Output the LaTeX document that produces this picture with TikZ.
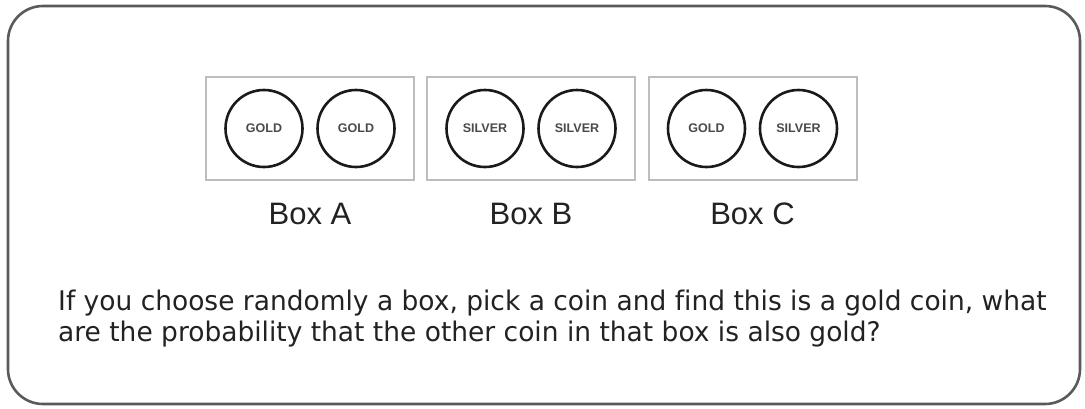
\documentclass[tikz,border=0pt]{standalone}
\usepackage{fontspec}
\usepackage{tikz}
\usetikzlibrary{calc,positioning}
\setmainfont{Liberation Sans}
\newfontfamily\labelfont{Liberation Sans}
\newfontfamily\questfont[FakeStretch=0.98,Ligatures=NoCommon]{DejaVu Sans}
\definecolor{framegray}{HTML}{5A5A5A}
\definecolor{boxgray}  {HTML}{BDBDBD}
\definecolor{coinink}  {HTML}{1A1A1A}
\definecolor{cointext} {HTML}{4A4A4A}
\definecolor{textink}  {HTML}{222222}

\begin{document}
\begin{tikzpicture}[x=1pt, y=-1pt,
    coinbox/.style={draw=boxgray, line width=2pt, minimum width=208pt, minimum height=103pt, inner sep=0pt},
    coin/.style={circle, draw=coinink, line width=2.6pt, minimum size=77pt, inner sep=0pt,
      text=cointext, font=\labelfont\bfseries\fontsize{12.5}{12.5}\selectfont},
    boxlabel/.style={inner sep=0pt, text=textink, font=\labelfont\fontsize{31}{31}\selectfont},
    question/.style={inner sep=0pt, anchor=base west, text=textink, font=\questfont\fontsize{27}{27}\selectfont}]
  \useasboundingbox (0,0) rectangle (1085,408);
  % outer frame
  \draw[framegray, line width=2.6pt, rounded corners=35pt] (8,6) rectangle (1080,404);
  % the three boxes
  \node[coinbox] (boxA) at (310,128.5) {};
  \node[coinbox] (boxB) at (531,128.5) {};
  \node[coinbox] (boxC) at (752.5,128.5) {};
  % coins
  \node[coin] (coinA1) at ($(boxA)+(-46,0)$) {GOLD};
  \node[coin] (coinA2) at ($(boxA)+(46,0)$) {GOLD};
  \node[coin] (coinB1) at ($(boxB)+(-46,0)$) {SILVER};
  \node[coin] (coinB2) at ($(boxB)+(46,0)$) {SILVER};
  \node[coin] (coinC1) at ($(boxC)+(-46,0)$) {GOLD};
  \node[coin] (coinC2) at ($(boxC)+(46,0)$) {SILVER};
  % labels
  \node[boxlabel, below=22pt of boxA] (labelA) {Box A};
  \node[boxlabel, below=22pt of boxB] (labelB) {Box B};
  \node[boxlabel, below=22pt of boxC] (labelC) {Box C};
  % question
  \node[question] (quest1) at (58,310.5) {If you choose randomly a box, pick a coin and find this is a gold coin, what};
  \node[question] (quest2) at (58,341.5) {are the probability that the other coin in that box is also gold?};
\end{tikzpicture}
\end{document}
